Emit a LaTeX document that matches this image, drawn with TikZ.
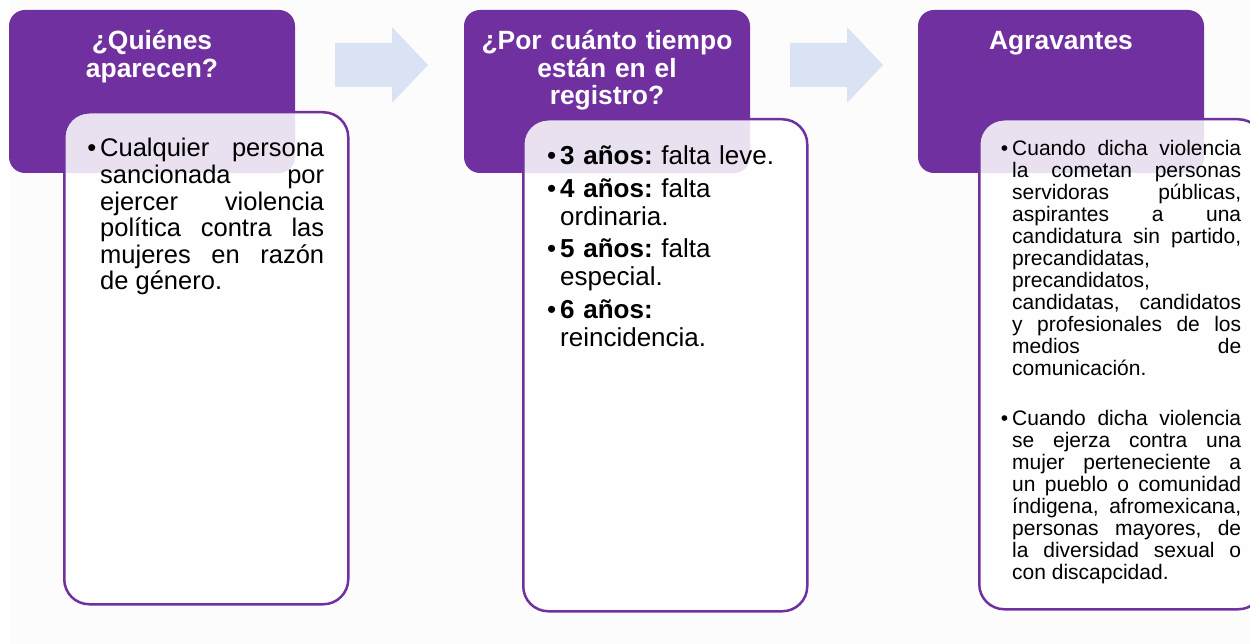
\documentclass[tikz,border=0pt]{standalone}
\usepackage{fontspec}
\setmainfont{Liberation Sans}
\usepackage{tikz}
\usetikzlibrary{calc}
\definecolor{morado}{HTML}{7030A0}
\definecolor{flecha}{HTML}{DAE3F3}
\definecolor{fondo}{HTML}{FCFCFC}
\frenchspacing
\hyphenpenalty=10000
\exhyphenpenalty=10000
\newcommand{\vineta}{\noindent\llap{\textbullet\hspace{4pt}}}
\newcommand{\Flecha}[1]{
	\fill[flecha] (#1) -- ++(57,0) -- ++(0,-16) -- ++(36,38) -- ++(-36,38) -- ++(0,-16) -- ++(-57,0) -- cycle;
}

\begin{document}
\begin{tikzpicture}[x=1pt, y=-1pt,
	cabeza/.style={fill=morado, rounded corners=16pt, minimum width=286pt, minimum height=163pt, inner sep=0pt, outer sep=0pt, anchor=north west},
	cuerpo/.style={draw=morado, line width=2.5pt, fill=white, fill opacity=0.85, rounded corners=25pt, minimum width=284pt, minimum height=492pt, inner sep=0pt, anchor=north west},
	titulo/.style={text=white, font=\fontsize{26.4}{27.5}\selectfont\bfseries, align=center, text width=270pt, anchor=base, inner sep=0pt},
	texto/.style={text=black, inner sep=0pt, anchor=base west}]

	\useasboundingbox (0,0) rectangle (1250,644);
	\fill[fondo] (10,0) rectangle (1250,644);

	\coordinate (f1) at (335,43);
	\coordinate (f2) at (790,43);
	\Flecha{f1}
	\Flecha{f2}

	% encabezados
	\node[cabeza] (h1) at (9,10) {};
	\node[cabeza] (h2) at (464,10) {};
	\node[cabeza] (h3) at (918,10) {};

	\node[titulo] (q1) at ($(h1.north)+(0,40)$) {¿Quiénes\\aparecen?};
	\node[titulo] (q2) at ($(h2.north)+(0,40)$) {¿Por cuánto tiempo\\están en el\\registro?};
	\node[titulo] (q3) at ($(h3.north)+(0,40)$) {Agravantes};

	% cuerpos
	\node[cuerpo] (b1) at (63,111) {};
	\node[cuerpo] (b2) at (522,118) {};
	\node[cuerpo, minimum height=490pt] (b3) at (978,118) {};

	\node[texto, text width=224pt, align=justify, font=\fontsize{25.5}{26.6}\selectfont] (t1) at ($(b1.north west)+(37,46)$)
		{\vineta Cualquier persona\linebreak sancionada por\linebreak ejercer violencia\linebreak política contra las\linebreak mujeres en razón\linebreak de género.};

	\node[texto, text width=235pt, align=left, font=\fontsize{26}{28}\selectfont] (t2) at ($(b2.north west)+(38,47)$)
		{\setlength{\parskip}{4.5pt}\vineta\textbf{3 años:} falta leve.\par
		\vineta\textbf{4 años:} falta ordinaria.\par
		\vineta\textbf{5 años:} falta especial.\par
		\vineta\textbf{6 años:} reincidencia.};

	\node[texto, text width=229pt, align=justify, font=\fontsize{21}{22}\selectfont] (t3) at ($(b3.north west)+(34,38)$)
		{\setlength{\parskip}{28pt}\vineta Cuando dicha violencia\linebreak la cometan personas\linebreak servidoras públicas,\linebreak aspirantes a una\linebreak candidatura sin partido,\linebreak precandidatas,\newline precandidatos,\newline candidatas, candidatos\linebreak y profesionales de los\linebreak medios de\linebreak comunicación.\par
		\vineta Cuando dicha violencia\linebreak se ejerza contra una\linebreak mujer perteneciente a\linebreak un pueblo o comunidad\linebreak índigena, afromexicana,\linebreak personas mayores, de\linebreak la diversidad sexual o\linebreak con discapcidad.};

\end{tikzpicture}
\end{document}
